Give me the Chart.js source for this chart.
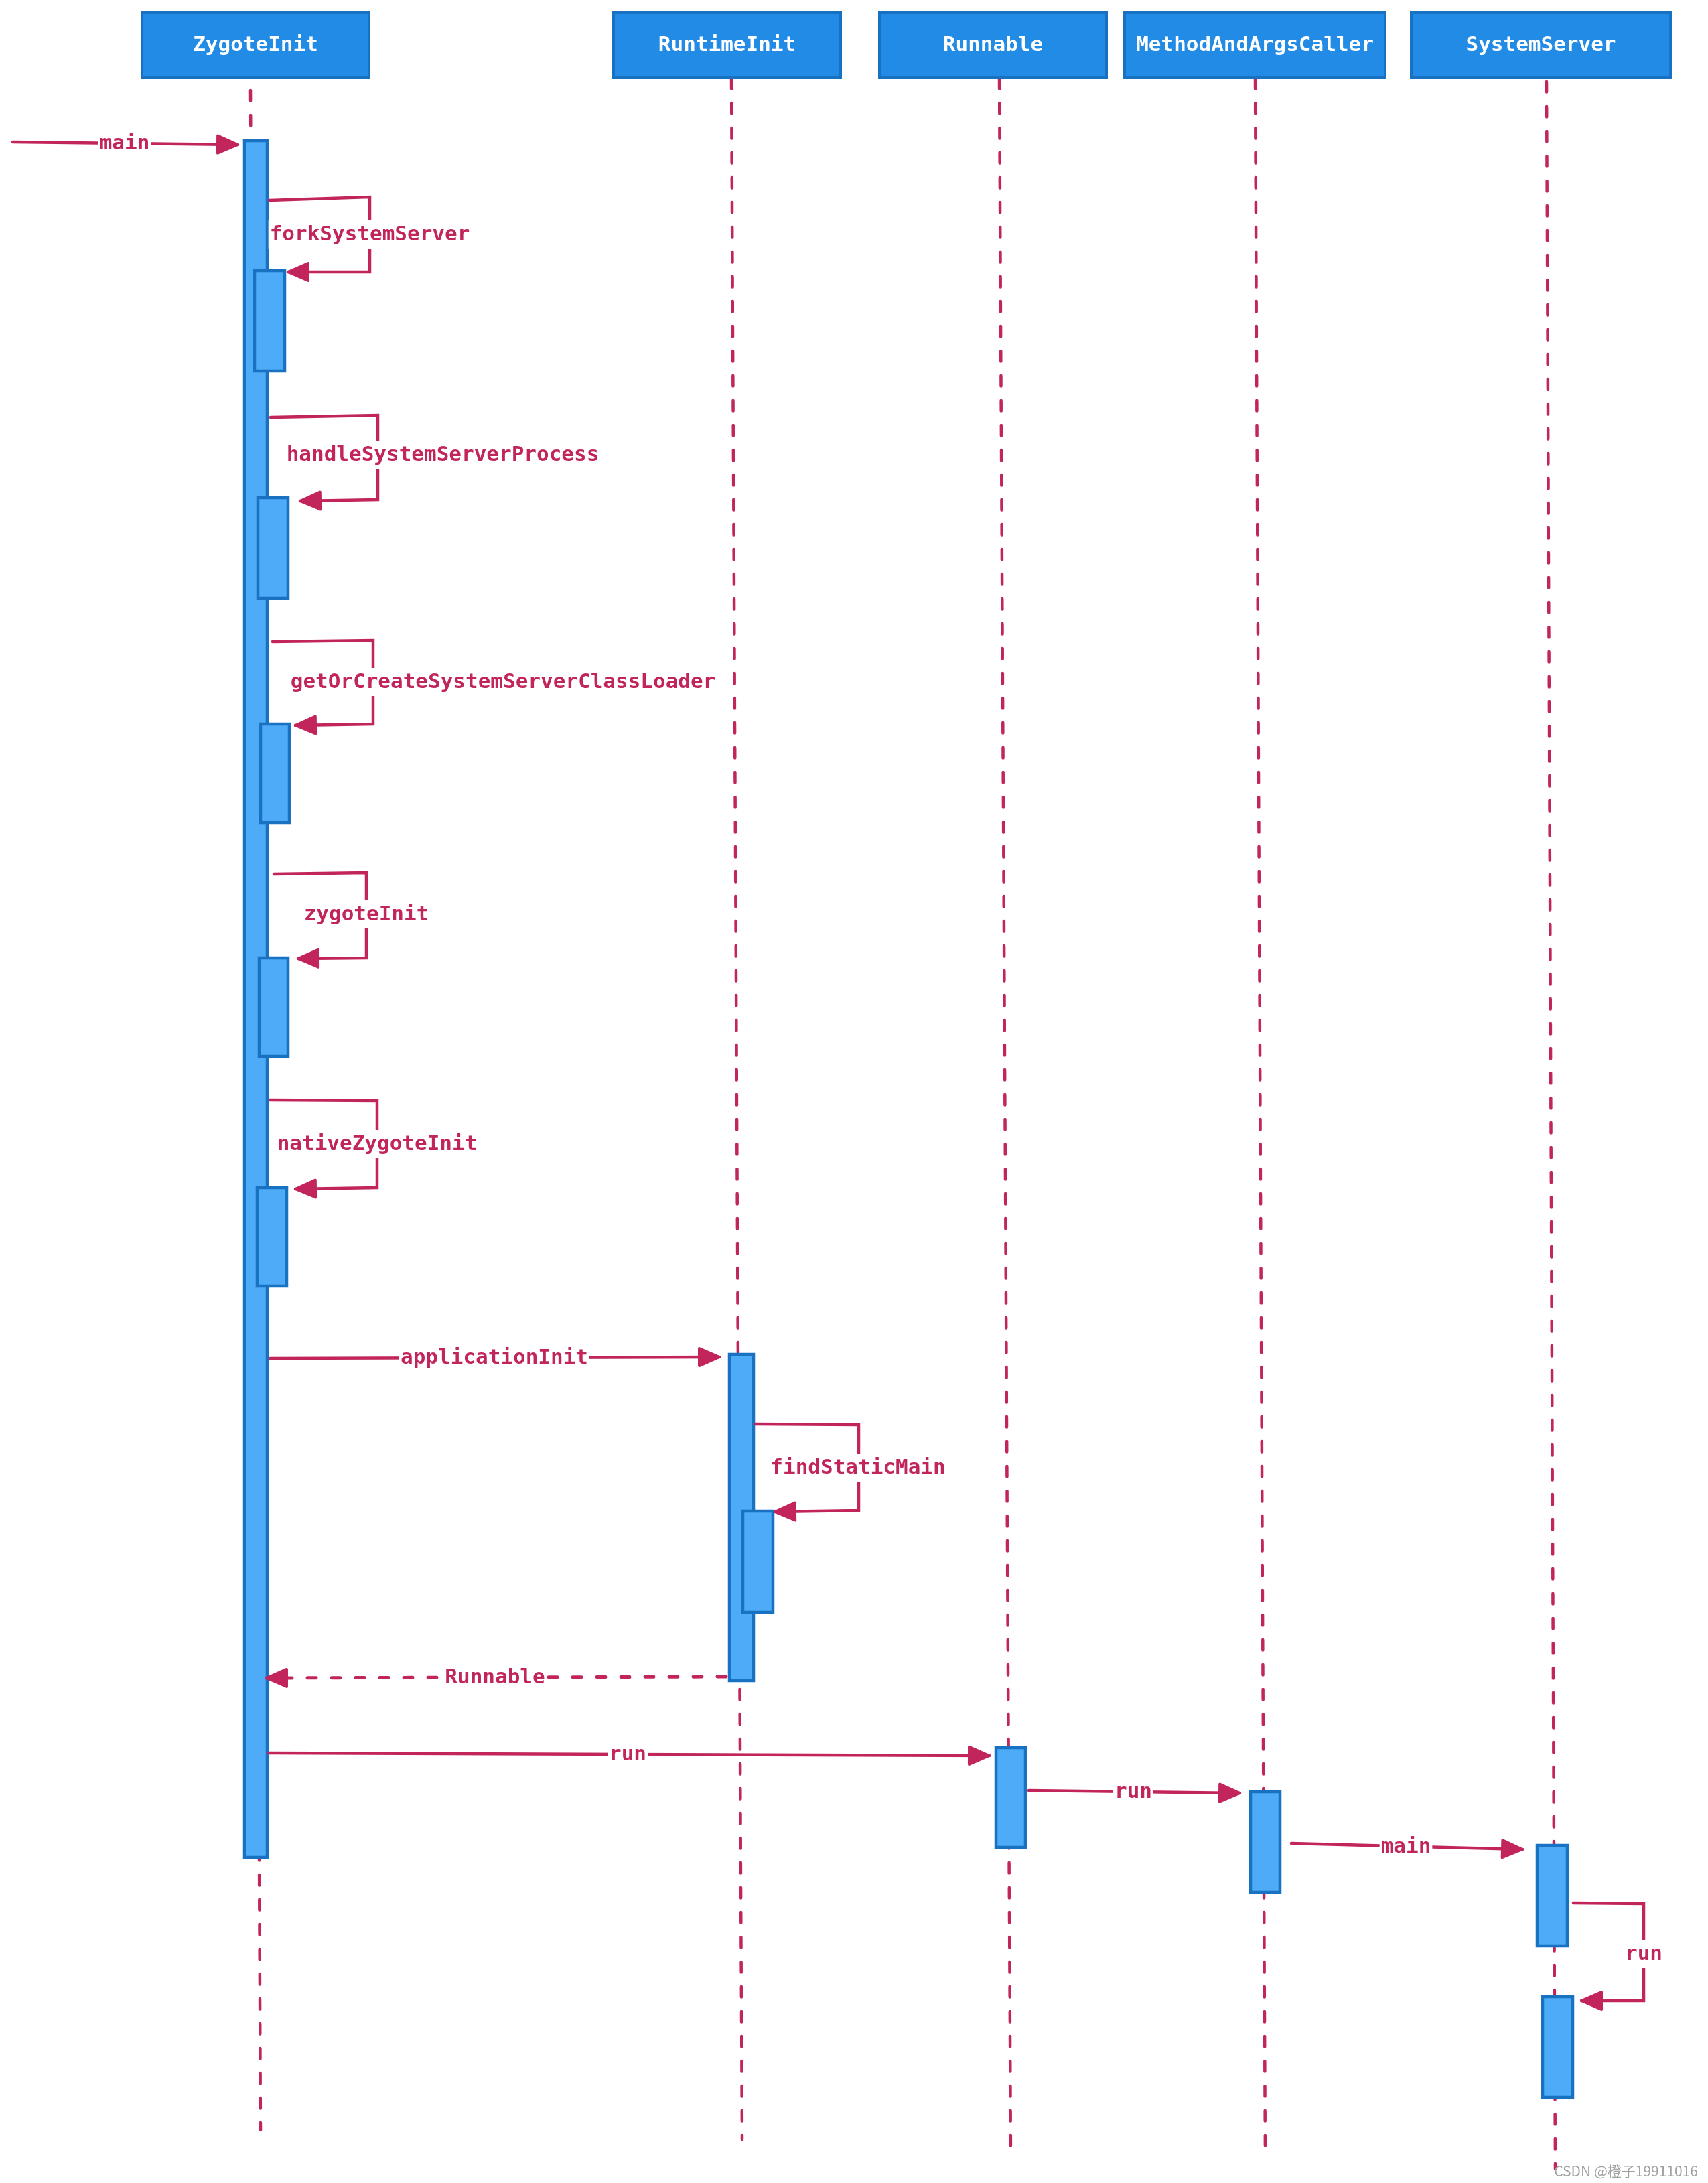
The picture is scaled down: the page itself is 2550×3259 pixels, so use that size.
<!DOCTYPE html>
<html>
<head>
<meta charset="utf-8">
<title>ZygoteInit 启动 SystemServer 时序图</title>
<script src="https://cdn.jsdelivr.net/npm/chart.js@4"></script>
<style>
  html, body { margin: 0; padding: 0; background: #fff; }
  #seqChart { display: block; }
</style>
</head>
<body>
<canvas id="seqChart" width="2550" height="3259"></canvas>
<script>
// participants and their header boxes (diagram units = axis values)
const participants = ['ZygoteInit', 'RuntimeInit', 'Runnable', 'MethodAndArgsCaller', 'SystemServer'];
const headerLeft  = [212, 916, 1313, 1679, 2107];
const headerRight = [551, 1255, 1652, 2068, 2494];
const headerTop = 19;
const headerBottom = 116;

// lifelines, [x, y] at top and bottom (hand drawn, a little slanted)
const lifelineTop    = [[374, 135], [1092, 117], [1492, 117], [1874, 117], [2309, 122]];
const lifelineBottom = [[389, 3180], [1108, 3194], [1509, 3221], [1889, 3224], [2322, 3238]];

// activation boxes: [left, right, top, bottom]
const activations = [
  [365, 399, 210, 2773],    // ZygoteInit.main
  [380, 425, 404, 554],     // forkSystemServer
  [385, 430, 743, 893],     // handleSystemServerProcess
  [389, 432, 1081, 1228],   // getOrCreateSystemServerClassLoader
  [387, 430, 1430, 1577],   // zygoteInit
  [384, 428, 1773, 1920],   // nativeZygoteInit
  [1089, 1125, 2022, 2509], // RuntimeInit.applicationInit
  [1109, 1154, 2256, 2407], // findStaticMain
  [1487, 1531, 2609, 2758], // Runnable.run
  [1867, 1911, 2675, 2825], // MethodAndArgsCaller.run
  [2295, 2340, 2755, 2905], // SystemServer.main
  [2303, 2348, 2981, 3131]  // SystemServer.run
];

// messages
const msgLabels = ['main', 'forkSystemServer', 'handleSystemServerProcess', 'getOrCreateSystemServerClassLoader',
  'zygoteInit', 'nativeZygoteInit', 'applicationInit', 'findStaticMain', 'Runnable', 'run', 'run', 'main', 'run'];
const msgPaths = [
  [[19, 212], [355, 216]],
  [[402, 299], [552, 294], [552, 406], [430, 406]],
  [[404, 623], [564, 620], [564, 746], [448, 748]],
  [[407, 958], [557, 956], [557, 1081], [441, 1083]],
  [[409, 1305], [547, 1303], [547, 1430], [445, 1431]],
  [[403, 1642], [563, 1643], [563, 1773], [441, 1775]],
  [[403, 2028], [1074, 2026]],
  [[1127, 2126], [1282, 2127], [1282, 2255], [1157, 2257]],
  [[1084, 2503], [398, 2505]],
  [[401, 2617], [1477, 2621]],
  [[1536, 2673], [1851, 2677]],
  [[1928, 2752], [2273, 2761]],
  [[2349, 2841], [2454, 2842], [2454, 2987], [2361, 2987]]
];
const msgLabelPos = [[186, 214], [552, 350], [661, 679], [751, 1018], [547, 1365], [563, 1708],
  [738, 2027], [1281, 2191], [739, 2504], [937, 2619], [1692, 2675], [2099, 2757], [2454, 2917]];
const msgDashed = [false, false, false, false, false, false, false, false, true, false, false, false, false];

const watermark = 'CSDN @橙子19911016';

const RED = '#c2255c';
const pt = p => ({x: p[0], y: p[1]});
const rect = (l, r, t, b) => [{x: l, y: t}, {x: r, y: t}, {x: r, y: b}, {x: l, y: b}, {x: l, y: t}, {x: r, y: t}];

const datasets = [];

participants.forEach((name, i) => {
  datasets.push({
    label: name + ' lifeline',
    data: [pt(lifelineTop[i]), pt(lifelineBottom[i])],
    borderColor: RED, borderWidth: 4.5, borderDash: [15.5, 21.5], borderCapStyle: 'round',
    pointRadius: 0, fill: false, order: 500
  });
  datasets.push({
    label: name,
    data: rect(headerLeft[i], headerRight[i], headerTop, headerBottom),
    borderColor: '#1971c2', backgroundColor: '#228be6', borderWidth: 4,
    borderJoinStyle: 'miter', pointRadius: 0, fill: 'shape', order: 400
  });
});

activations.forEach((a, i) => {
  datasets.push({
    label: 'activation ' + i,
    data: rect(a[0], a[1], a[2], a[3]),
    borderColor: '#1971c2', backgroundColor: '#4dabf7', borderWidth: 4.5,
    borderJoinStyle: 'miter', pointRadius: 0, fill: 'shape', order: 300 - i
  });
});

msgPaths.forEach((path, i) => {
  datasets.push({
    label: msgLabels[i],
    data: path.map(pt),
    borderColor: RED, borderWidth: msgDashed[i] ? 5 : 4.5,
    borderDash: msgDashed[i] ? [13, 23] : [], borderCapStyle: 'round',
    borderJoinStyle: 'miter', pointRadius: 0, fill: false, order: 100 - i
  });
});

const seqText = {
  id: 'seqText',
  afterDatasetsDraw(chart) {
    const {ctx, scales: {x, y}} = chart;
    ctx.save();

    // arrowheads
    msgPaths.forEach(path => {
      const tip = path[path.length - 1], prev = path[path.length - 2];
      const tx = x.getPixelForValue(tip[0]), ty = y.getPixelForValue(tip[1]);
      const px = x.getPixelForValue(prev[0]), py = y.getPixelForValue(prev[1]);
      const ang = Math.atan2(ty - py, tx - px);
      const len = 30, half = 13;
      ctx.save();
      ctx.translate(tx, ty);
      ctx.rotate(ang);
      ctx.beginPath();
      ctx.moveTo(0, 0);
      ctx.lineTo(-len, -half);
      ctx.lineTo(-len, half);
      ctx.closePath();
      ctx.fillStyle = RED;
      ctx.strokeStyle = RED;
      ctx.lineWidth = 4;
      ctx.lineJoin = 'round';
      ctx.fill();
      ctx.stroke();
      ctx.restore();
    });

    // message labels
    ctx.font = 'bold 31px "DejaVu Sans Mono", monospace';
    ctx.textAlign = 'center';
    ctx.textBaseline = 'middle';
    msgLabels.forEach((txt, i) => {
      const cx = x.getPixelForValue(msgLabelPos[i][0]);
      const cy = y.getPixelForValue(msgLabelPos[i][1]);
      const w = ctx.measureText(txt).width;
      ctx.fillStyle = '#ffffff';
      ctx.fillRect(cx - w / 2 - 2, cy - 21, w + 4, 42);
      ctx.fillStyle = RED;
      ctx.fillText(txt, cx, cy + 1);
    });

    // header names
    ctx.fillStyle = '#ffffff';
    participants.forEach((name, i) => {
      const cx = x.getPixelForValue((headerLeft[i] + headerRight[i]) / 2);
      const cy = y.getPixelForValue((headerTop + headerBottom) / 2);
      ctx.fillText(name, cx, cy);
    });

    // watermark
    ctx.font = '21px "Noto Sans CJK SC", "Liberation Sans", sans-serif';
    ctx.textAlign = 'right';
    ctx.fillStyle = '#a0a0a0';
    ctx.fillText(watermark, x.getPixelForValue(2535), y.getPixelForValue(3241));
    ctx.restore();
  }
};

new Chart(document.getElementById('seqChart'), {
  type: 'line',
  data: {datasets},
  options: {
    responsive: false,
    devicePixelRatio: 1,
    animation: false,
    layout: {padding: 0},
    elements: {line: {tension: 0}},
    plugins: {legend: {display: false}, tooltip: {enabled: false}},
    scales: {
      x: {type: 'linear', min: 0, max: 2550, display: false, offset: false},
      y: {type: 'linear', min: 0, max: 3259, reverse: true, display: false}
    }
  },
  plugins: [seqText]
});
</script>
</body>
</html>
